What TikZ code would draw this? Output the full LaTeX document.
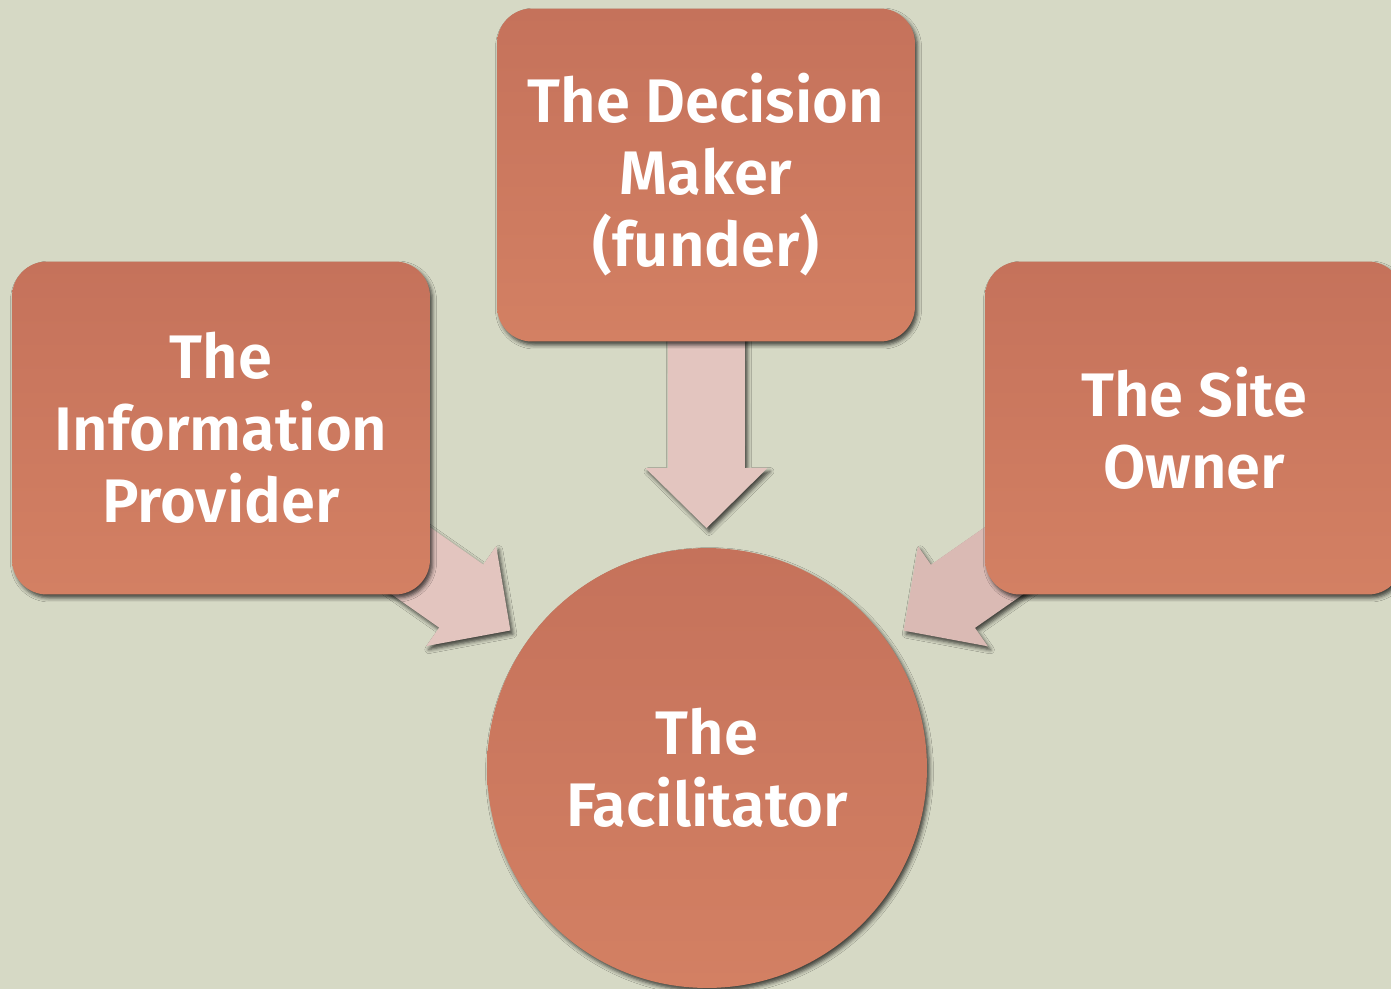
\documentclass[tikz,border=0pt]{standalone}
\usepackage{fontspec}
\setmainfont{Fira Sans}[BoldFont={Fira Sans SemiBold}]
\usetikzlibrary{calc,shadows.blur}

\definecolor{paper}{HTML}{D6D9C5}
\definecolor{clayTop}{HTML}{C5725B}
\definecolor{clayBottom}{HTML}{D38063}
\definecolor{flow}{HTML}{E3C5BF}
\definecolor{flowDark}{HTML}{DABAB4}

\tikzset{
  soft shadow/.style={blur shadow={shadow xshift=0.05cm, shadow yshift=-0.07cm,
      shadow blur radius=0.08cm, shadow opacity=70}},
  clay/.style={top color=clayTop, bottom color=clayBottom, text=white,
      align=center, inner sep=0pt, soft shadow,
      font=\fontsize{35}{41}\selectfont\bfseries},
  role/.style={clay, rectangle, rounded corners=0.7cm,
      minimum width=8.36cm, minimum height=6.66cm},
  hub/.style={clay, circle, minimum size=8.8cm},
  flowarrow/.style={fill=flow, soft shadow},
}

% block arrow from point #2 towards node #3, stopping 4.8cm short of #3's centre
\newcommand\blockflow[3][]{%
  \coordinate (t) at ($(#3.center)!4.8cm!(#2)$);
  \coordinate (h) at ($(t)!1.2cm!(#2)$);
  \fill[flowarrow,#1]
    ($(#2)!0.77cm!90:(t)$) -- ($(h)!0.77cm!-90:(#2)$)
    -- ($(h)!1.22cm!-90:(#2)$) -- (t)
    -- ($(h)!1.22cm!90:(#2)$) -- ($(h)!0.77cm!90:(#2)$)
    -- ($(#2)!0.77cm!-90:(t)$) -- cycle;
}

\begin{document}
\begin{tikzpicture}[x=0.02cm, y=-0.02cm]
  \useasboundingbox (0,0) rectangle (1391,989);
  \clip (0,0) rectangle (1391,989);
  \fill[paper] (0,0) rectangle (1391,989);

  % centres of the three role boxes
  \coordinate (info) at (221,428);
  \coordinate (deci) at (706,175);
  \coordinate (site) at (1194,428);

  \node[hub] (faci) at (707,768) {The\\Facilitator};

  % arrows run from each box centre towards the facilitator, under the boxes
  \blockflow{info}{faci}
  \blockflow{deci}{faci}
  \blockflow[fill=flowDark]{site}{faci}

  \node[role] (infobox) at (info) {The\\Information\\Provider};
  \node[role] (decibox) at (deci) {The Decision\\Maker\\(funder)};
  \node[role] (sitebox) at (site) {The Site\\Owner};
\end{tikzpicture}
\end{document}
